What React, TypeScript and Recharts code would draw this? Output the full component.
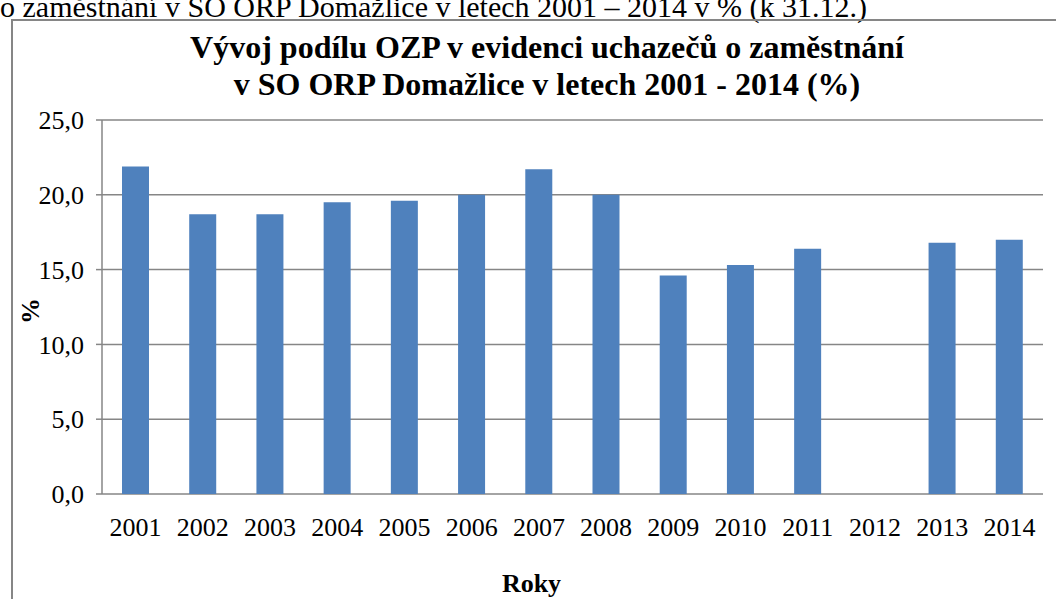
import { BarChart, Bar, XAxis, YAxis, CartesianGrid } from 'recharts';

const years = ['2001', '2002', '2003', '2004', '2005', '2006', '2007', '2008', '2009', '2010', '2011', '2012', '2013', '2014'];
const shares: (number | null)[] = [21.9, 18.7, 18.7, 19.5, 19.6, 20.0, 21.7, 20.0, 14.6, 15.3, 16.4, null, 16.8, 17.0];
const yTicks = [0, 5, 10, 15, 20, 25];
const edgeTicks = [0, 1, 2, 3, 4, 5, 6, 7, 8, 9, 10, 11, 12, 13, 14];

const data = years.map((year, i) => ({ year, value: shares[i] }));

const FONT = '"Liberation Serif", "Times New Roman", serif';
const GRID = '#868686';

const fmt = (v: number) => v.toFixed(1).replace('.', ',');

export default function App() {
  return (
    <div
      style={{
        position: 'absolute',
        top: 0,
        left: 0,
        width: 1056,
        height: 599,
        overflow: 'hidden',
        background: '#fff',
        fontFamily: FONT,
      }}
    >
      {/* text of the page above the chart, cut off at the top */}
      <div
        style={{
          position: 'absolute',
          top: -8,
          left: 0,
          fontFamily: FONT,
          fontSize: 30,
          lineHeight: '30px',
          whiteSpace: 'nowrap',
          color: '#000',
        }}
      >
        o zaměstnání v SO ORP Domažlice v letech 2001 – 2014 v % (k 31.12.)
      </div>
      <div
        style={{
          position: 'absolute',
          top: 19,
          left: 11,
          width: 1200,
          height: 800,
          borderTop: `2px solid ${GRID}`,
          borderLeft: `2px solid ${GRID}`,
        }}
      />
      <div
        style={{
          position: 'absolute',
          top: 29,
          left: 0,
          width: 1094,
          textAlign: 'center',
          fontFamily: FONT,
          fontSize: 32,
          lineHeight: '37px',
          fontWeight: 'bold',
          color: '#000',
        }}
      >
        <div>Vývoj podílu OZP v evidenci uchazečů o zaměstnání</div>
        <div>v SO ORP Domažlice v letech 2001 - 2014 (%)</div>
      </div>
      <div style={{ position: 'absolute', top: 0, left: 0 }}>
        <BarChart
          width={1056}
          height={599}
          data={data}
          margin={{ top: 120, right: 13, bottom: 45, left: 0 }}
          barSize={27}
        >
          <CartesianGrid vertical={false} stroke={GRID} strokeWidth={1.5} />
          <XAxis
            xAxisId="edges"
            type="number"
            domain={[0, 14]}
            ticks={edgeTicks}
            height={0}
            tickSize={6}
            tickFormatter={() => ''}
            axisLine={{ stroke: GRID, strokeWidth: 1.5 }}
            tickLine={{ stroke: GRID, strokeWidth: 1.5 }}
            allowDataOverflow
          />
          <XAxis
            xAxisId="cat"
            dataKey="year"
            height={60}
            axisLine={false}
            tickLine={false}
            tickSize={0}
            tickMargin={24}
            interval={0}
            tick={{ fill: '#000', fontSize: 26, fontFamily: FONT }}
            label={{
              value: 'Roky',
              position: 'insideBottom',
              offset: -38,
              fill: '#000',
              fontSize: 26,
              fontWeight: 'bold',
              fontFamily: FONT,
              dx: -41,
            }}
          />
          <YAxis
            width={102}
            domain={[0, 25]}
            ticks={yTicks}
            tickFormatter={fmt}
            tickSize={6}
            tickMargin={12}
            axisLine={{ stroke: GRID, strokeWidth: 1.5 }}
            tickLine={{ stroke: GRID, strokeWidth: 1.5 }}
            tick={{ fill: '#000', fontSize: 26, fontFamily: FONT }}
            label={{
              value: '%',
              angle: -90,
              position: 'insideLeft',
              offset: 30,
              dy: 17,
              fill: '#000',
              fontSize: 26,
              fontWeight: 'bold',
              fontFamily: FONT,
            }}
          />
          <Bar xAxisId="cat" dataKey="value" fill="#4F81BD" isAnimationActive={false} />
        </BarChart>
      </div>
    </div>
  );
}
